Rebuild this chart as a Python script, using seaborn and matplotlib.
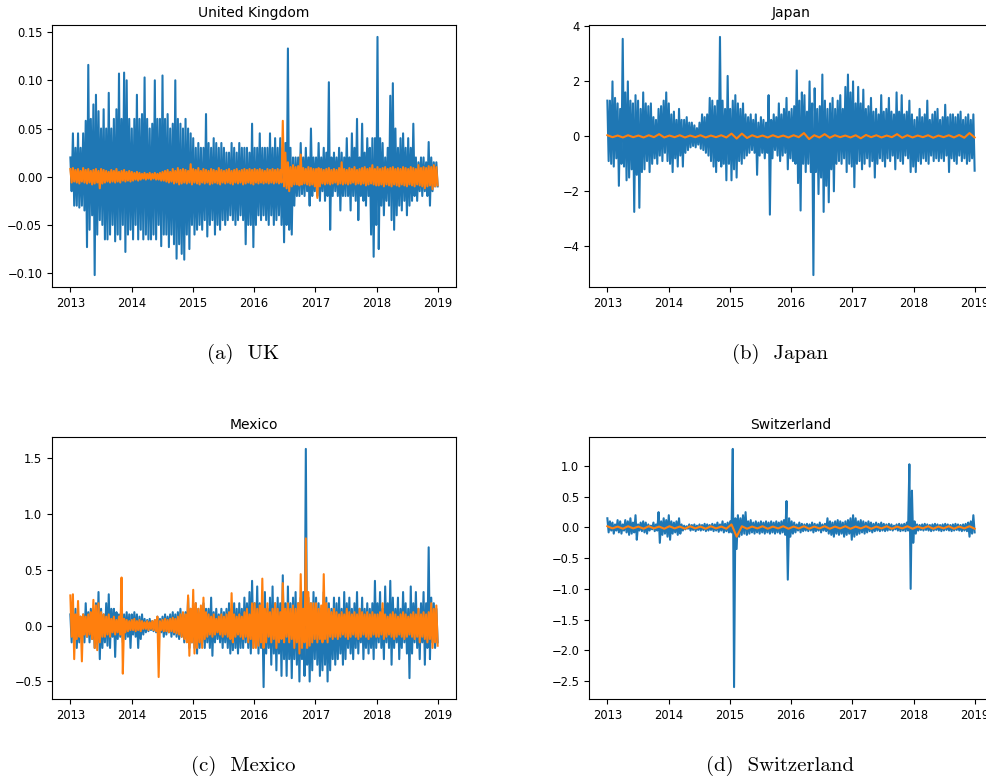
import numpy as np
import pandas as pd
import matplotlib
matplotlib.use("Agg")
import matplotlib.pyplot as plt
import matplotlib.dates as mdates
import matplotlib.ticker as mticker
import seaborn as sns

START, END = "2013-01-01", "2018-12-31"

# ---- United Kingdom: half-monthly upper / lower envelope (one row per year 2013..2018)
uk_blue_hi = [
    0.02, 0.045, 0.03, 0.045, 0.03, 0.045, 0.058, 0.116, 0.06, 0.075, 0.085, 0.068, 0.05, 0.07, 0.05, 0.087, 0.05, 0.06, 0.07, 0.107, 0.06, 0.108, 0.1, 0.06,
    0.05, 0.06, 0.085, 0.06, 0.065, 0.103, 0.06, 0.05, 0.055, 0.1, 0.06, 0.06, 0.105, 0.06, 0.065, 0.05, 0.055, 0.1, 0.06, 0.055, 0.05, 0.06, 0.05, 0.045,
    0.04, 0.03, 0.035, 0.03, 0.03, 0.065, 0.035, 0.03, 0.04, 0.035, 0.03, 0.035, 0.03, 0.025, 0.025, 0.035, 0.03, 0.025, 0.035, 0.03, 0.03, 0.03, 0.025, 0.055,
    0.03, 0.03, 0.045, 0.03, 0.03, 0.03, 0.045, 0.03, 0.04, 0.03, 0.04, 0.03, 0.035, 0.133, 0.03, 0.02, 0.02, 0.02, 0.035, 0.02, 0.03, 0.02, 0.05, 0.02,
    0.02, 0.035, 0.02, 0.03, 0.025, 0.098, 0.02, 0.025, 0.02, 0.03, 0.025, 0.02, 0.04, 0.02, 0.045, 0.03, 0.06, 0.02, 0.055, 0.025, 0.04, 0.03, 0.04, 0.04,
    0.145, 0.04, 0.035, 0.02, 0.03, 0.084, 0.097, 0.05, 0.03, 0.04, 0.045, 0.03, 0.04, 0.03, 0.055, 0.02, 0.015, 0.02, 0.02, 0.015, 0.036, 0.02, 0.015, 0.015,
]
uk_blue_lo = [
    -0.015, -0.03, -0.03, -0.032, -0.03, -0.035, -0.073, -0.055, -0.04, -0.102, -0.06, -0.045, -0.05, -0.065, -0.065, -0.06, -0.05, -0.067, -0.06, -0.065, -0.05, -0.078, -0.06, -0.055,
    -0.065, -0.05, -0.065, -0.055, -0.065, -0.06, -0.065, -0.065, -0.06, -0.065, -0.05, -0.072, -0.06, -0.06, -0.073, -0.06, -0.07, -0.085, -0.07, -0.08, -0.086, -0.06, -0.075, -0.05,
    -0.06, -0.055, -0.05, -0.055, -0.045, -0.062, -0.05, -0.045, -0.06, -0.05, -0.055, -0.045, -0.05, -0.045, -0.04, -0.045, -0.05, -0.045, -0.04, -0.045, -0.07, -0.05, -0.05, -0.073,
    -0.05, -0.04, -0.045, -0.04, -0.045, -0.05, -0.04, -0.05, -0.045, -0.04, -0.05, -0.068, -0.05, -0.055, -0.06, -0.03, -0.02, -0.02, -0.018, -0.02, -0.015, -0.03, -0.02, -0.015,
    -0.02, -0.025, -0.015, -0.025, -0.02, -0.055, -0.02, -0.015, -0.02, -0.035, -0.02, -0.02, -0.02, -0.035, -0.02, -0.025, -0.045, -0.02, -0.025, -0.03, -0.02, -0.06, -0.083, -0.05,
    -0.075, -0.03, -0.04, -0.025, -0.03, -0.045, -0.055, -0.04, -0.03, -0.035, -0.025, -0.04, -0.03, -0.025, -0.02, -0.025, -0.015, -0.02, -0.015, -0.02, -0.03, -0.015, -0.01, -0.01,
]
uk_orange_hi = [
    0.008, 0.009, 0.007, 0.008, 0.006, 0.009, 0.007, 0.008, 0.006, 0.007, 0.008, 0.006, 0.008, 0.007, 0.006, 0.005, 0.007, 0.006, 0.008, 0.005, 0.006, 0.007, 0.005, 0.006,
    0.005, 0.004, 0.005, 0.004, 0.003, 0.004, 0.003, 0.004, 0.003, 0.004, 0.003, 0.004, 0.005, 0.006, 0.007, 0.005, 0.008, 0.006, 0.009, 0.007, 0.008, 0.007, 0.006, 0.013,
    0.008, 0.007, 0.009, 0.006, 0.008, 0.007, 0.006, 0.008, 0.007, 0.006, 0.009, 0.007, 0.006, 0.007, 0.008, 0.006, 0.007, 0.008, 0.006, 0.007, 0.008, 0.007, 0.008, 0.007,
    0.008, 0.007, 0.008, 0.007, 0.006, 0.008, 0.007, 0.008, 0.007, 0.008, 0.007, 0.058, 0.025, 0.015, 0.01, 0.012, 0.01, 0.011, 0.023, 0.009, 0.008, 0.01, 0.009, 0.008,
    0.008, 0.009, 0.008, 0.007, 0.008, 0.009, 0.007, 0.008, 0.007, 0.009, 0.015, 0.008, 0.007, 0.009, 0.008, 0.01, 0.007, 0.008, 0.009, 0.01, 0.008, 0.009, 0.012, 0.008,
    0.01, 0.008, 0.009, 0.01, 0.008, 0.009, 0.01, 0.008, 0.009, 0.008, 0.01, 0.009, 0.008, 0.01, 0.009, 0.008, 0.012, 0.009, 0.01, 0.009, 0.011, 0.01, 0.012, 0.01,
]
uk_orange_lo = [
    -0.006, -0.005, -0.006, -0.007, -0.005, -0.006, -0.007, -0.006, -0.008, -0.007, -0.006, -0.012, -0.007, -0.006, -0.005, -0.006, -0.005, -0.006, -0.005, -0.006, -0.004, -0.005, -0.004, -0.005,
    -0.004, -0.003, -0.004, -0.003, -0.002, -0.003, -0.002, -0.003, -0.002, -0.003, -0.003, -0.004, -0.004, -0.005, -0.006, -0.005, -0.007, -0.006, -0.008, -0.007, -0.006, -0.007, -0.006, -0.008,
    -0.006, -0.007, -0.008, -0.006, -0.007, -0.006, -0.008, -0.007, -0.006, -0.007, -0.008, -0.006, -0.007, -0.006, -0.007, -0.008, -0.006, -0.007, -0.006, -0.008, -0.007, -0.006, -0.007, -0.008,
    -0.006, -0.007, -0.006, -0.007, -0.006, -0.007, -0.006, -0.007, -0.006, -0.007, -0.006, -0.01, -0.012, -0.015, -0.01, -0.008, -0.008, -0.009, -0.008, -0.007, -0.008, -0.009, -0.008, -0.01,
    -0.022, -0.01, -0.007, -0.008, -0.007, -0.008, -0.007, -0.006, -0.008, -0.007, -0.008, -0.007, -0.008, -0.007, -0.006, -0.008, -0.007, -0.008, -0.007, -0.009, -0.008, -0.007, -0.008, -0.009,
    -0.009, -0.008, -0.01, -0.008, -0.009, -0.01, -0.008, -0.009, -0.01, -0.008, -0.009, -0.01, -0.008, -0.009, -0.01, -0.008, -0.009, -0.01, -0.012, -0.01, -0.009, -0.013, -0.01, -0.009,
]

# ---- Japan
jp_blue_hi = [
    1.3, 1.3, 2.0, 1.4, 1.2, 1.0, 3.55, 1.6, 2.0, 1.3, 1.2, 1.5, 1.3, 1.0, 1.6, 1.2, 1.1, 1.2, 0.7, 0.6, 1.0, 1.1, 1.3, 1.6,
    1.2, 0.8, 0.9, 0.6, 1.0, 0.6, 0.6, 0.7, 0.5, 0.5, 0.4, 0.3, 0.5, 0.8, 0.7, 0.8, 1.4, 1.3, 1.1, 1.3, 3.62, 1.3, 1.0, 2.2,
    1.0, 1.3, 1.5, 1.2, 1.0, 1.2, 0.8, 0.7, 0.8, 0.6, 0.8, 0.5, 0.7, 0.6, 0.5, 1.5, 0.6, 0.8, 0.7, 1.2, 0.8, 1.0, 1.4, 0.9,
    1.0, 1.1, 2.4, 1.3, 1.6, 1.5, 0.9, 2.0, 1.2, 1.75, 1.0, 1.1, 2.25, 1.3, 1.0, 1.2, 1.4, 1.0, 1.3, 1.5, 1.0, 1.8, 2.25, 1.6,
    2.0, 1.2, 1.8, 1.2, 1.7, 1.0, 1.1, 1.4, 0.9, 1.0, 0.8, 1.5, 0.9, 1.0, 1.4, 0.9, 0.8, 1.6, 0.9, 1.5, 0.8, 0.9, 1.3, 0.8,
    0.6, 0.7, 1.0, 0.7, 0.8, 1.3, 0.6, 0.8, 0.9, 1.0, 0.6, 0.7, 1.15, 0.7, 0.8, 0.8, 0.7, 0.8, 0.9, 0.6, 0.7, 0.8, 0.6, 0.8,
]
jp_blue_lo = [
    -0.9, -1.0, -1.1, -0.8, -1.8, -1.0, -1.1, -1.6, -1.5, -1.2, -2.75, -1.4, -2.6, -1.3, -1.2, -0.9, -1.3, -1.0, -0.8, -1.0, -0.7, -0.9, -0.6, -0.9,
    -1.0, -1.3, -0.8, -1.1, -0.7, -1.1, -0.6, -0.5, -0.4, -0.35, -0.4, -0.3, -0.45, -0.5, -0.6, -0.7, -0.9, -1.1, -1.3, -0.9, -1.1, -1.0, -1.6, -1.0,
    -1.6, -1.2, -1.5, -0.9, -1.0, -0.8, -0.7, -0.6, -0.5, -0.6, -1.4, -0.7, -0.6, -0.8, -0.6, -2.85, -0.8, -0.5, -0.7, -0.9, -0.7, -0.6, -1.2, -0.8,
    -0.9, -1.0, -1.7, -2.7, -1.0, -1.3, -1.0, -1.3, -5.05, -1.3, -2.1, -1.5, -2.75, -1.8, -2.4, -1.2, -2.0, -1.0, -0.9, -1.0, -0.8, -1.3, -1.0, -1.1,
    -1.85, -1.0, -0.9, -1.2, -1.0, -0.8, -1.1, -0.9, -1.5, -1.0, -0.8, -0.9, -1.1, -0.8, -0.9, -0.7, -1.2, -0.8, -0.9, -1.0, -0.7, -0.8, -1.3, -1.1,
    -1.3, -0.9, -1.0, -0.8, -0.9, -1.0, -0.7, -0.9, -0.8, -0.9, -0.8, -0.9, -0.7, -1.3, -0.8, -0.9, -1.0, -0.7, -0.9, -0.8, -1.0, -0.9, -0.8, -1.25,
]
# two-monthly envelope (nearly flat series)
jp_orange_hi = [0.04, 0.03, 0.04, 0.03, 0.04, 0.08, 0.03, 0.04, 0.03, 0.04, 0.03, 0.04,
                0.1, 0.1, 0.04, 0.03, 0.04, 0.03, 0.04, 0.12, 0.04, 0.08, 0.04, 0.03,
                0.04, 0.05, 0.04, 0.03, 0.08, 0.04, 0.03, 0.04, 0.03, 0.04, 0.05, 0.12]
jp_orange_lo = [-0.03, -0.04, -0.03, -0.04, -0.03, -0.04, -0.03, -0.04, -0.03, -0.04, -0.03, -0.04,
                -0.08, -0.06, -0.03, -0.04, -0.03, -0.04, -0.03, -0.1, -0.04, -0.05, -0.03, -0.04,
                -0.07, -0.03, -0.04, -0.03, -0.05, -0.04, -0.03, -0.05, -0.03, -0.04, -0.05, -0.04]

# ---- Mexico
mx_blue_hi = [
    0.1, 0.12, 0.15, 0.1, 0.08, 0.1, 0.2, 0.12, 0.15, 0.1, 0.2, 0.3, 0.15, 0.1, 0.2, 0.28, 0.15, 0.15, 0.12, 0.1, 0.15, 0.1, 0.12, 0.1,
    0.1, 0.12, 0.1, 0.08, 0.1, 0.06, 0.05, 0.06, 0.04, 0.05, 0.08, 0.06, 0.08, 0.1, 0.08, 0.1, 0.12, 0.1, 0.12, 0.15, 0.1, 0.12, 0.25, 0.15,
    0.15, 0.2, 0.15, 0.12, 0.2, 0.15, 0.15, 0.25, 0.12, 0.15, 0.1, 0.15, 0.12, 0.15, 0.2, 0.15, 0.2, 0.15, 0.2, 0.15, 0.25, 0.2, 0.3, 0.4,
    0.2, 0.35, 0.2, 0.15, 0.3, 0.15, 0.25, 0.35, 0.2, 0.25, 0.2, 0.45, 0.2, 0.35, 0.2, 0.25, 0.3, 0.2, 0.25, 0.3, 1.58, 0.25, 0.2, 0.3,
    0.25, 0.2, 0.15, 0.3, 0.25, 0.2, 0.15, 0.25, 0.2, 0.25, 0.15, 0.3, 0.2, 0.25, 0.15, 0.2, 0.3, 0.15, 0.25, 0.15, 0.2, 0.15, 0.2, 0.4,
    0.2, 0.3, 0.15, 0.35, 0.2, 0.4, 0.25, 0.15, 0.25, 0.15, 0.3, 0.2, 0.15, 0.35, 0.2, 0.3, 0.15, 0.2, 0.3, 0.2, 0.7, 0.25, 0.2, 0.15,
]
mx_blue_lo = [
    -0.15, -0.12, -0.2, -0.15, -0.12, -0.15, -0.1, -0.15, -0.12, -0.2, -0.15, -0.3, -0.2, -0.15, -0.18, -0.2, -0.1, -0.28, -0.12, -0.1, -0.15, -0.12, -0.1, -0.2,
    -0.08, -0.1, -0.2, -0.12, -0.08, -0.06, -0.05, -0.04, -0.05, -0.06, -0.08, -0.06, -0.1, -0.08, -0.06, -0.1, -0.08, -0.1, -0.12, -0.1, -0.15, -0.12, -0.2, -0.15,
    -0.2, -0.25, -0.2, -0.15, -0.2, -0.15, -0.2, -0.27, -0.15, -0.12, -0.15, -0.2, -0.15, -0.2, -0.25, -0.22, -0.2, -0.25, -0.2, -0.2, -0.15, -0.2, -0.25, -0.2,
    -0.15, -0.25, -0.2, -0.55, -0.25, -0.2, -0.35, -0.25, -0.4, -0.25, -0.45, -0.3, -0.45, -0.3, -0.47, -0.3, -0.35, -0.5, -0.3, -0.45, -0.35, -0.5, -0.4, -0.3,
    -0.35, -0.45, -0.4, -0.35, -0.5, -0.4, -0.3, -0.35, -0.3, -0.25, -0.35, -0.3, -0.2, -0.25, -0.3, -0.2, -0.25, -0.15, -0.3, -0.2, -0.25, -0.2, -0.3, -0.2,
    -0.15, -0.2, -0.3, -0.15, -0.2, -0.35, -0.2, -0.15, -0.3, -0.2, -0.15, -0.25, -0.47, -0.25, -0.15, -0.2, -0.3, -0.15, -0.35, -0.2, -0.3, -0.15, -0.2, -0.15,
]
mx_orange_hi = [
    0.27, 0.28, 0.1, 0.22, 0.08, 0.1, 0.08, 0.1, 0.12, 0.23, 0.18, 0.2, 0.12, 0.1, 0.08, 0.1, 0.06, 0.08, 0.05, 0.08, 0.43, 0.06, 0.05, 0.04,
    0.05, 0.06, 0.04, 0.05, 0.04, 0.03, 0.04, 0.03, 0.04, 0.05, 0.08, 0.04, 0.05, 0.06, 0.05, 0.06, 0.07, 0.06, 0.08, 0.1, 0.12, 0.1, 0.27, 0.15,
    0.32, 0.2, 0.15, 0.18, 0.25, 0.12, 0.1, 0.08, 0.1, 0.06, 0.08, 0.1, 0.08, 0.1, 0.12, 0.29, 0.1, 0.08, 0.1, 0.08, 0.12, 0.15, 0.1, 0.2,
    0.2, 0.15, 0.18, 0.42, 0.15, 0.2, 0.12, 0.15, 0.2, 0.15, 0.12, 0.38, 0.15, 0.2, 0.15, 0.18, 0.15, 0.2, 0.46, 0.15, 0.78, 0.3, 0.2, 0.2,
    0.2, 0.15, 0.18, 0.46, 0.2, 0.15, 0.12, 0.15, 0.12, 0.1, 0.12, 0.1, 0.15, 0.12, 0.1, 0.12, 0.1, 0.15, 0.12, 0.1, 0.12, 0.1, 0.12, 0.1,
    0.1, 0.12, 0.2, 0.1, 0.08, 0.1, 0.12, 0.1, 0.08, 0.1, 0.12, 0.1, 0.08, 0.1, 0.12, 0.1, 0.15, 0.1, 0.12, 0.1, 0.12, 0.2, 0.15, 0.18,
]
mx_orange_lo = [
    -0.1, -0.3, -0.12, -0.1, -0.32, -0.08, -0.1, -0.08, -0.12, -0.2, -0.22, -0.15, -0.1, -0.1, -0.08, -0.1, -0.06, -0.08, -0.06, -0.08, -0.43, -0.06, -0.05, -0.04,
    -0.04, -0.05, -0.04, -0.05, -0.03, -0.03, -0.04, -0.03, -0.04, -0.05, -0.46, -0.04, -0.05, -0.05, -0.06, -0.05, -0.06, -0.07, -0.08, -0.1, -0.12, -0.15, -0.27, -0.15,
    -0.25, -0.2, -0.15, -0.2, -0.12, -0.1, -0.08, -0.1, -0.08, -0.06, -0.08, -0.1, -0.08, -0.1, -0.12, -0.15, -0.1, -0.08, -0.1, -0.12, -0.1, -0.15, -0.12, -0.2,
    -0.2, -0.18, -0.15, -0.2, -0.15, -0.1, -0.15, -0.12, -0.2, -0.15, -0.12, -0.15, -0.1, -0.15, -0.12, -0.2, -0.15, -0.25, -0.2, -0.15, -0.2, -0.18, -0.15, -0.12,
    -0.15, -0.12, -0.15, -0.12, -0.15, -0.1, -0.12, -0.1, -0.12, -0.1, -0.08, -0.1, -0.12, -0.1, -0.08, -0.1, -0.12, -0.1, -0.08, -0.1, -0.12, -0.1, -0.08, -0.1,
    -0.1, -0.08, -0.12, -0.1, -0.08, -0.1, -0.12, -0.1, -0.08, -0.1, -0.12, -0.1, -0.08, -0.1, -0.12, -0.1, -0.15, -0.1, -0.12, -0.15, -0.12, -0.2, -0.15, -0.18,
]

# ---- Switzerland
ch_blue_hi = [
    0.15, 0.1, 0.08, 0.05, 0.12, 0.1, 0.05, 0.12, 0.1, 0.15, 0.08, 0.2, 0.05, 0.08, 0.1, 0.08, 0.05, 0.03, 0.08, 0.05, 0.25, 0.1, 0.15, 0.12,
    0.2, 0.1, 0.08, 0.1, 0.15, 0.05, 0.03, 0.02, 0.05, 0.04, 0.05, 0.03, 0.05, 0.04, 0.06, 0.05, 0.04, 0.06, 0.05, 0.08, 0.05, 0.1, 0.06, 0.08,
    0.1, 1.28, 0.15, 0.2, 0.15, 0.2, 0.25, 0.1, 0.12, 0.08, 0.1, 0.08, 0.1, 0.08, 0.1, 0.08, 0.1, 0.08, 0.1, 0.08, 0.1, 0.12, 0.43, 0.15,
    0.1, 0.08, 0.05, 0.08, 0.06, 0.05, 0.06, 0.05, 0.08, 0.06, 0.05, 0.08, 0.05, 0.06, 0.15, 0.1, 0.08, 0.1, 0.12, 0.1, 0.08, 0.1, 0.12, 0.15,
    0.2, 0.15, 0.1, 0.12, 0.1, 0.08, 0.1, 0.08, 0.06, 0.08, 0.06, 0.08, 0.06, 0.05, 0.06, 0.05, 0.03, 0.05, 0.06, 0.05, 0.06, 0.08, 1.03, 0.6,
    0.1, 0.05, 0.04, 0.05, 0.06, 0.05, 0.04, 0.05, 0.06, 0.05, 0.04, 0.05, 0.06, 0.05, 0.04, 0.05, 0.06, 0.05, 0.04, 0.05, 0.06, 0.08, 0.1, 0.2,
]
ch_blue_lo = [
    -0.08, -0.05, -0.1, -0.05, -0.08, -0.1, -0.05, -0.08, -0.12, -0.1, -0.08, -0.2, -0.05, -0.06, -0.08, -0.1, -0.05, -0.03, -0.06, -0.05, -0.25, -0.12, -0.1, -0.15,
    -0.2, -0.1, -0.08, -0.12, -0.1, -0.05, -0.03, -0.02, -0.05, -0.04, -0.06, -0.04, -0.05, -0.04, -0.06, -0.05, -0.04, -0.06, -0.05, -0.07, -0.05, -0.08, -0.06, -0.08,
    -0.08, -2.6, -0.35, -0.15, -0.12, -0.1, -0.12, -0.1, -0.08, -0.1, -0.08, -0.1, -0.08, -0.1, -0.08, -0.1, -0.08, -0.1, -0.08, -0.1, -0.08, -0.12, -0.85, -0.15,
    -0.1, -0.08, -0.05, -0.08, -0.06, -0.05, -0.06, -0.05, -0.08, -0.06, -0.05, -0.08, -0.05, -0.06, -0.1, -0.12, -0.15, -0.1, -0.12, -0.1, -0.15, -0.12, -0.1, -0.2,
    -0.15, -0.12, -0.1, -0.08, -0.1, -0.08, -0.06, -0.08, -0.06, -0.05, -0.06, -0.05, -0.06, -0.05, -0.04, -0.05, -0.03, -0.05, -0.06, -0.05, -0.06, -0.05, -1.0, -0.25,
    -0.1, -0.05, -0.04, -0.05, -0.04, -0.05, -0.06, -0.05, -0.04, -0.05, -0.06, -0.05, -0.04, -0.05, -0.06, -0.05, -0.04, -0.05, -0.06, -0.05, -0.06, -0.15, -0.1, -0.08,
]
ch_orange_hi = [0.02, 0.015, 0.02, 0.015, 0.02, 0.015, 0.02, 0.015, 0.02, 0.015, 0.02, 0.015,
                0.05, 0.02, 0.015, 0.02, 0.015, 0.02, 0.015, 0.02, 0.015, 0.02, 0.015, 0.02,
                0.015, 0.02, 0.015, 0.02, 0.015, 0.02, 0.015, 0.02, 0.015, 0.02, 0.015, 0.02]
ch_orange_lo = [-0.015, -0.02, -0.015, -0.02, -0.015, -0.02, -0.015, -0.02, -0.015, -0.02, -0.015, -0.02,
                -0.15, -0.02, -0.015, -0.02, -0.015, -0.02, -0.015, -0.02, -0.015, -0.02, -0.015, -0.02,
                -0.015, -0.02, -0.015, -0.02, -0.015, -0.02, -0.015, -0.02, -0.015, -0.02, -0.015, -0.02]

titles = ["United Kingdom", "Japan", "Mexico", "Switzerland"]
captions = ["(a)  UK", "(b)  Japan", "(c)  Mexico", "(d)  Switzerland"]
ytick_steps = [0.05, 2, 0.5, 0.5]

BLUE, ORANGE = "#1f77b4", "#ff7f0e"


def zigzag(hi, lo):
    v = np.empty(2 * len(hi))
    v[0::2] = hi
    v[1::2] = lo
    return v


series = [
    (uk_blue_hi, uk_blue_lo, uk_orange_hi, uk_orange_lo),
    (jp_blue_hi, jp_blue_lo, jp_orange_hi, jp_orange_lo),
    (mx_blue_hi, mx_blue_lo, mx_orange_hi, mx_orange_lo),
    (ch_blue_hi, ch_blue_lo, ch_orange_hi, ch_orange_lo),
]

W, H = 987, 780
fig = plt.figure(figsize=(W / 100, H / 100), dpi=100)
# axes boxes in pixels: left, top, width, height
boxes = [(52, 25, 404, 262), (589, 25, 404, 262), (52, 437, 404, 262), (589, 437, 404, 262)]
cap_pos = [(243, 354), (780, 354), (243, 766), (780, 766)]

for i, (bh, bl, oh, ol) in enumerate(series):
    l, t, w, h = boxes[i]
    ax = fig.add_axes([l / W, 1 - (t + h) / H, w / W, h / H])
    yb = zigzag(bh, bl)
    xb = pd.date_range(START, END, periods=len(yb))
    yo = zigzag(oh, ol)
    xo = pd.date_range(START, END, periods=len(yo))
    sns.lineplot(x=xb, y=yb, ax=ax, color=BLUE, linewidth=1.5, estimator=None, sort=False)
    sns.lineplot(x=xo, y=yo, ax=ax, color=ORANGE, linewidth=1.5, estimator=None, sort=False)
    ax.set_title(titles[i], fontsize=10)
    ax.xaxis.set_major_locator(mdates.YearLocator())
    ax.xaxis.set_major_formatter(mdates.DateFormatter("%Y"))
    ax.yaxis.set_major_locator(mticker.MultipleLocator(ytick_steps[i]))
    ax.tick_params(labelsize=8.3, length=3.5, width=0.8)
    ax.set_xlabel("")
    ax.set_ylabel("")
    for sp in ax.spines.values():
        sp.set_linewidth(0.8)
    cx, cy = cap_pos[i]
    fig.text(cx / W, 1 - cy / H, captions[i], ha="center", va="center",
             family="cmr10", fontsize=15)

fig.savefig("out.png", dpi=100)
